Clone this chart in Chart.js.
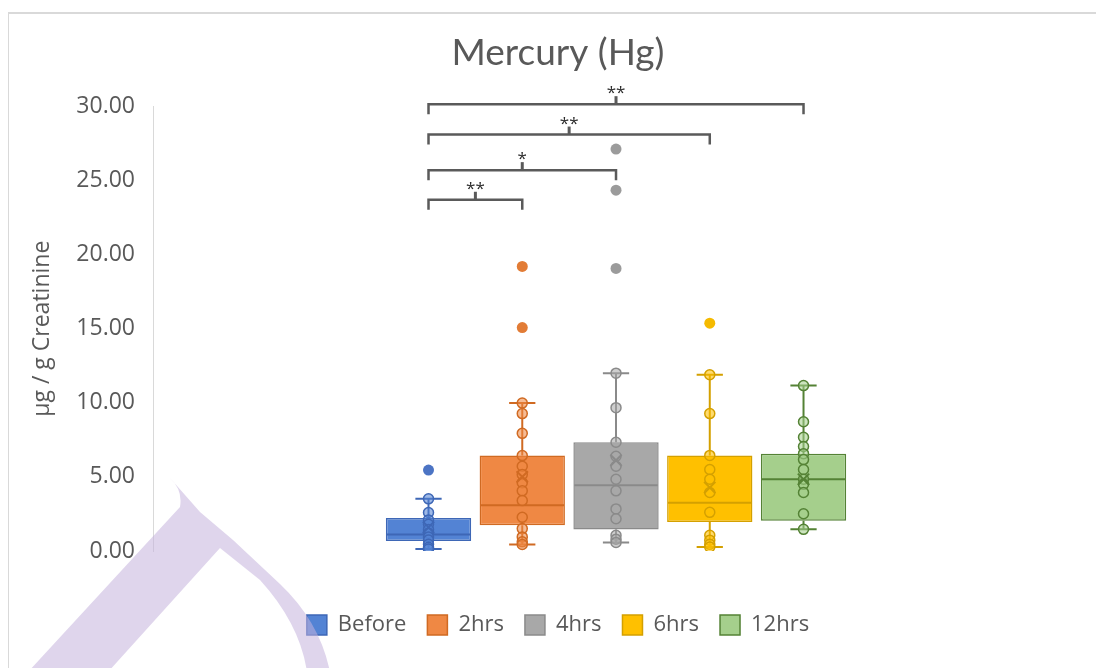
<!DOCTYPE html>
<html>
<head>
<meta charset="utf-8">
<script src="https://cdn.jsdelivr.net/npm/chart.js@4.4.1/dist/chart.umd.min.js"></script>
<style>
  html, body { margin: 0; padding: 0; background: #fff; width: 1096px; height: 668px; overflow: hidden; }
  #frame { position: absolute; left: 8px; top: 12px; width: 1100px; height: 670px; box-sizing: border-box;
           border-top: 2px solid #d9d9d9; border-left: 1px solid #d9d9d9; }
  #wrap { position: absolute; left: 8px; top: 12px; width: 1100px; height: 656px; }
</style>
</head>
<body>
<div id="frame"></div>
<div id="wrap"><canvas id="chart" width="1100" height="656"></canvas></div>
<script>
// Sampling times (one box per time point)
const groups = ['Before', '2hrs', '4hrs', '6hrs', '12hrs'];

// Box-and-whisker statistics (µg / g creatinine)
const whiskerLow  = [0.13, 0.44, 0.58, 0.27, 1.46];
const q1          = [0.67, 1.73, 1.45, 1.95, 2.04];
const median      = [1.11, 3.08, 4.44, 3.26, 4.84];
const q3          = [2.22, 6.44, 7.34, 6.45, 6.57];
const whiskerHigh = [3.52, 9.98, 12.00, 11.89, 11.16];
const means       = [1.60, 5.00, 6.12, 4.28, 4.84];

// Individual measurements inside the whiskers
const pointsBefore = [3.52, 2.60, 2.10, 1.80, 1.45, 1.20, 0.95, 0.75, 0.45, 0.25, 0.13];
const points2hrs   = [9.98, 9.27, 7.94, 6.44, 5.72, 5.17, 4.61, 4.06, 3.40, 2.28, 1.51, 0.95, 0.62, 0.44];
const points4hrs   = [12.00, 9.67, 7.34, 6.39, 5.72, 4.84, 4.06, 2.84, 2.18, 1.06, 0.80, 0.58];
const points6hrs   = [11.89, 9.27, 6.45, 5.50, 4.84, 3.95, 2.61, 1.06, 0.73, 0.45, 0.27];
const points12hrs  = [11.16, 8.72, 7.67, 7.05, 6.57, 6.17, 5.50, 4.84, 4.50, 3.95, 2.51, 1.46];
const innerPoints  = [pointsBefore, points2hrs, points4hrs, points6hrs, points12hrs];

// Outliers beyond the whiskers
const outliers = [[5.46], [19.20, 15.08], [27.12, 24.35, 19.07], [15.37], []];

// Significance brackets (Before vs. each later time)
const bracketFrom  = [0, 0, 0, 0];
const bracketTo    = [1, 2, 3, 4];
const bracketLevel = [23.7, 25.7, 28.1, 30.15];
const bracketMark  = ['**', '*', '**', '**'];

// Y axis
const yMin = 0, yMax = 30, yStep = 5;

// Styling
const fills    = ['#5383D4', '#EF8844', '#A8A8A8', '#FFC000', '#A5CF8C'];
const borders  = ['#3E67B6', '#D06A22', '#8A8A8A', '#D4A000', '#548235'];
const outFills = ['#4C74C4', '#E27C36', '#9B9B9B', '#F5BA00', '#70AD47'];
const BOX_WIDTH = 0.91;      // fraction of one group slot
const CAP_HALF  = 0.14;      // whisker cap half-width, in group units
const TEXT = '#595959';

const datasets = [];

// boxes (Q1..Q3 floating bars)
groups.forEach((g, i) => {
  datasets.push({
    type: 'bar', label: g,
    data: [{ x: i, y: [q1[i], q3[i]] }],
    backgroundColor: fills[i], borderColor: borders[i], borderWidth: 1.5,
    borderSkipped: false, grouped: false,
    barPercentage: BOX_WIDTH, categoryPercentage: 1, order: 3
  });
});

// whiskers, caps and median line
groups.forEach((g, i) => {
  const h = BOX_WIDTH / 2 - 0.01;
  datasets.push({
    type: 'line', label: g + ' whiskers',
    data: [
      { x: i, y: q3[i] }, { x: i, y: whiskerHigh[i] }, { x: i, y: null },
      { x: i - CAP_HALF, y: whiskerHigh[i] }, { x: i + CAP_HALF, y: whiskerHigh[i] }, { x: i, y: null },
      { x: i, y: q1[i] }, { x: i, y: whiskerLow[i] }, { x: i, y: null },
      { x: i - CAP_HALF, y: whiskerLow[i] }, { x: i + CAP_HALF, y: whiskerLow[i] }, { x: i, y: null },
      { x: i - h, y: median[i] }, { x: i + h, y: median[i] }
    ],
    borderColor: borders[i], borderWidth: 2, pointRadius: 0, spanGaps: false,
    fill: false, order: 2
  });
});

// individual points
groups.forEach((g, i) => {
  datasets.push({
    type: 'scatter', label: g + ' points',
    data: innerPoints[i].map(v => ({ x: i, y: v })),
    pointRadius: 5, pointBackgroundColor: fills[i] + '90',
    pointBorderColor: borders[i], pointBorderWidth: 1.5, order: 1
  });
});

// outliers
groups.forEach((g, i) => {
  datasets.push({
    type: 'scatter', label: g + ' outliers',
    data: outliers[i].map(v => ({ x: i, y: v })),
    pointRadius: 5.5, pointBackgroundColor: outFills[i],
    pointBorderColor: outFills[i], pointBorderWidth: 0, order: 1
  });
});

// means
groups.forEach((g, i) => {
  datasets.push({
    type: 'scatter', label: g + ' mean',
    data: [{ x: i, y: means[i] }],
    pointStyle: 'crossRot', pointRadius: 8,
    pointBorderColor: borders[i], pointBorderWidth: 2, order: 0
  });
});

// significance brackets drawn on the value scale
const bracketPlugin = {
  id: 'brackets',
  afterDatasetsDraw(chart) {
    const { ctx, scales: { x, y } } = chart;
    ctx.save();
    bracketLevel.forEach((lvl, k) => {
      const x1 = x.getPixelForValue(bracketFrom[k]);
      const x2 = x.getPixelForValue(bracketTo[k]);
      const yy = y.getPixelForValue(lvl);
      const xm = (x1 + x2) / 2;
      ctx.strokeStyle = '#5a5a5a';
      ctx.lineWidth = 2.5;
      ctx.beginPath();
      ctx.moveTo(x1, yy + 10); ctx.lineTo(x1, yy); ctx.lineTo(x2, yy); ctx.lineTo(x2, yy + 10);
      ctx.stroke();
      ctx.lineWidth = 3;
      ctx.beginPath(); ctx.moveTo(xm, yy); ctx.lineTo(xm, yy - 8); ctx.stroke();
      ctx.fillStyle = '#2b2b2b';
      ctx.font = '17px "Open Sans"';
      ctx.textAlign = 'center';
      ctx.textBaseline = 'alphabetic';
      ctx.fillText(bracketMark[k], xm, yy - 6);
    });
    ctx.restore();
  }
};

// lavender pen-nib watermark over the lower-left corner
const watermarkPlugin = {
  id: 'watermark',
  afterDraw(chart) {
    const ctx = chart.ctx;
    ctx.save();
    ctx.fillStyle = 'rgba(196,178,220,0.55)';
    ctx.beginPath();
    ctx.moveTo(162, 466);
    ctx.lineTo(192, 500);
    ctx.lineTo(225, 528);
    ctx.lineTo(272, 572);
    ctx.quadraticCurveTo(312, 610, 322, 660);
    ctx.lineTo(299, 660);
    ctx.quadraticCurveTo(292, 612, 252, 568);
    ctx.lineTo(212, 536);
    ctx.lineTo(100, 660);
    ctx.lineTo(20, 660);
    ctx.lineTo(172, 495);
    ctx.quadraticCurveTo(175, 478, 162, 466);
    ctx.closePath();
    ctx.fill();
    ctx.restore();
  }
};

new Chart(document.getElementById('chart'), {
  type: 'bar',
  data: { datasets },
  options: {
    responsive: false,
    animation: false,
    events: [],
    layout: { padding: { left: 0, right: 0, top: 0, bottom: 22 } },
    scales: {
      x: {
        type: 'linear', min: -2.9387, max: 7.141,
        offset: false,
        display: true,
        grid: { display: false, offset: false },
        border: { display: false },
        ticks: { display: false },
        afterBuildTicks: s => { s.ticks = groups.map((g, i) => ({ value: i })); },
        afterFit: s => { s.height = 42; }
      },
      y: {
        min: yMin, max: yMax,
        grid: { display: false, drawTicks: false },
        border: { display: true, color: '#d9d9d9', width: 1 },
        ticks: {
          stepSize: yStep, padding: 18, color: TEXT,
          font: { family: '"Open Sans"', size: 23 },
          callback: v => Number(v).toFixed(2)
        },
        title: {
          display: true, text: 'µg / g Creatinine', color: TEXT,
          font: { family: '"Open Sans"', size: 23 },
          padding: { top: 21, bottom: 0 }
        },
        afterFit: s => { s.width = 145; }
      }
    },
    plugins: {
      title: {
        display: true, text: 'Mercury (Hg)', color: TEXT,
        font: { family: 'Lato', size: 37, weight: 'normal' },
        padding: { top: 19, bottom: 31 }
      },
      legend: {
        position: 'bottom',
        labels: {
          color: TEXT,
          font: { family: '"Open Sans"', size: 22 },
          boxWidth: 20, boxHeight: 20, padding: 21,
          filter: (item, data) => data.datasets[item.datasetIndex].type === 'bar'
        }
      },
      tooltip: { enabled: false }
    }
  },
  plugins: [bracketPlugin, watermarkPlugin]
});
</script>
</body>
</html>
